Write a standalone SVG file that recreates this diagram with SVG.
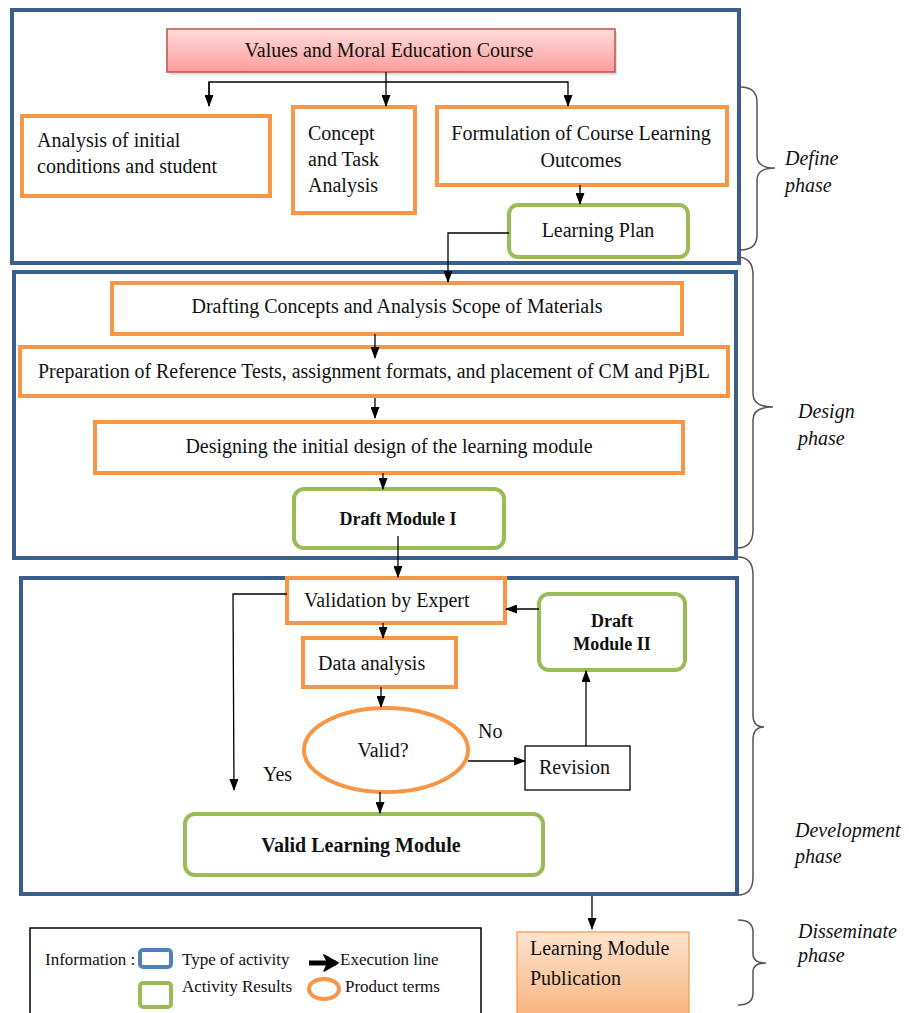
<svg xmlns="http://www.w3.org/2000/svg" width="909" height="1013" viewBox="0 0 909 1013">
<defs>
<style>
text{font-family:"Liberation Serif","Times New Roman",serif;font-size:20px;fill:#111;}
.b{font-weight:bold;}
.it{font-style:italic;}
.mid{text-anchor:middle;}
.lg{font-size:17px;}
.frame{fill:none;stroke:#3a5f8f;stroke-width:4;}
.org{fill:#fff;stroke:#f79646;stroke-width:4;}
.grn{fill:#fff;stroke:#9bbb59;stroke-width:4;}
.con{fill:none;stroke:#000;stroke-width:1.3;}
.brace{fill:none;stroke:#555;stroke-width:1.5;}
</style>
<marker id="arr" markerWidth="12" markerHeight="9" refX="11" refY="4.5" orient="auto" markerUnits="userSpaceOnUse">
<path d="M0,0 L12,4.5 L0,9 z" fill="#000"/>
</marker>
<marker id="arrB" markerWidth="16" markerHeight="18" refX="13" refY="9" orient="auto" markerUnits="userSpaceOnUse">
<path d="M1,1 L15,9 L1,17 L5,9 z" fill="#000" stroke="#000" stroke-width="1.5" stroke-linejoin="round"/>
</marker>
<linearGradient id="pink" x1="0" y1="0" x2="0" y2="1">
<stop offset="0" stop-color="#ffdcdc"/>
<stop offset="1" stop-color="#fc9c9c"/>
</linearGradient>
<linearGradient id="peach" x1="0" y1="0" x2="0" y2="1">
<stop offset="0" stop-color="#fde4cf"/>
<stop offset="1" stop-color="#f9b07a"/>
</linearGradient>
</defs>
<rect width="909" height="1013" fill="#fff"/>

<g id="frames">
<rect id="define-frame" class="frame" x="12" y="10" width="727" height="253"/>
<rect id="design-frame" class="frame" x="14" y="272" width="722" height="286"/>
<rect id="development-frame" class="frame" x="21" y="578" width="716" height="316"/>
</g>

<g id="values-course">
<rect x="169" y="32" width="448" height="43" fill="#000" opacity="0.12"/>
<rect x="167" y="29" width="448" height="43" fill="url(#pink)" stroke="#c0504d" stroke-width="1.5"/>
<text class="mid" x="389" y="57">Values and Moral Education Course</text>
</g>
<g id="analysis-initial">
<rect class="org" x="22" y="116" width="248" height="80"/>
<text x="37" y="147">Analysis of initial</text>
<text x="37" y="173">conditions and student</text>
</g>
<g id="concept-task">
<rect class="org" x="293" y="107" width="122" height="106"/>
<text x="308" y="140">Concept</text>
<text x="308" y="166">and Task</text>
<text x="308" y="192">Analysis</text>
</g>
<g id="formulation">
<rect class="org" x="437" y="107" width="290" height="78"/>
<text class="mid" x="581" y="140">Formulation of Course Learning</text>
<text class="mid" x="581" y="167">Outcomes</text>
</g>
<g id="learning-plan">
<rect class="grn" x="509" y="205" width="179" height="52" rx="9"/>
<text class="mid" x="598" y="237">Learning Plan</text>
</g>

<g id="drafting-concepts">
<rect class="org" x="112" y="283" width="570" height="51"/>
<text class="mid" x="397" y="313">Drafting Concepts and Analysis Scope of Materials</text>
</g>
<g id="preparation">
<rect class="org" x="20" y="347" width="708" height="49"/>
<text class="mid" x="374" y="378" textLength="672" lengthAdjust="spacingAndGlyphs">Preparation of Reference Tests, assignment formats, and placement of CM and PjBL</text>
</g>
<g id="designing">
<rect class="org" x="95" y="422" width="588" height="51"/>
<text class="mid" x="389" y="453">Designing the initial design of the learning module</text>
</g>
<g id="draft-module-1">
<rect class="grn" x="294" y="489" width="210" height="59" rx="10"/>
<text class="mid b" x="398" y="525" style="font-size:18px">Draft Module I</text>
</g>

<g id="validation-expert">
<rect class="org" x="287" y="578" width="218" height="45"/>
<text x="304" y="607">Validation by Expert</text>
</g>
<g id="draft-module-2">
<rect class="grn" x="539" y="594" width="146" height="76" rx="10"/>
<text class="mid b" x="612" y="627" style="font-size:18px">Draft</text>
<text class="mid b" x="612" y="650" style="font-size:18px">Module II</text>
</g>
<g id="data-analysis">
<rect class="org" x="303" y="638" width="153" height="49"/>
<text x="318" y="670">Data analysis</text>
</g>
<g id="valid-decision">
<ellipse cx="386" cy="750" rx="82" ry="42" fill="#fff" stroke="#f79646" stroke-width="4"/>
<text class="mid" x="383" y="757">Valid?</text>
</g>
<g id="revision">
<rect x="525" y="746" width="105" height="44" fill="#fff" stroke="#000" stroke-width="1.3"/>
<text x="539" y="774">Revision</text>
</g>
<g id="valid-learning-module">
<rect class="grn" x="185" y="814" width="358" height="61" rx="10"/>
<text class="mid b" x="361" y="852">Valid Learning Module</text>
</g>

<g id="publication">
<rect x="517" y="932" width="172" height="90" fill="url(#peach)" stroke="#f79646" stroke-width="1.2"/>
<text x="530" y="955">Learning Module</text>
<text x="530" y="985">Publication</text>
</g>

<g id="legend">
<rect x="30" y="928" width="451" height="100" fill="#fff" stroke="#000" stroke-width="1.5"/>
<text class="lg" x="45" y="965">Information :</text>
<rect x="140" y="950" width="31" height="17" rx="3" fill="#fff" stroke="#4f81bd" stroke-width="4"/>
<text class="lg" x="182" y="965">Type of activity</text>
<line x1="309" y1="963" x2="336" y2="963" stroke="#000" stroke-width="5" marker-end="url(#arrB)"/>
<text class="lg" x="340" y="965">Execution line</text>
<rect x="140" y="983" width="31" height="24" rx="3" fill="#fff" stroke="#9bbb59" stroke-width="4"/>
<text class="lg" x="182" y="992">Activity Results</text>
<ellipse cx="324" cy="989" rx="15" ry="10" fill="#fff" stroke="#f79646" stroke-width="4"/>
<text class="lg" x="345" y="992">Product terms</text>
</g>

<g id="connectors">
<line class="con" x1="386" y1="72" x2="386" y2="106" marker-end="url(#arr)"/>
<polyline class="con" points="209,106 209,82 568,82 568,106" marker-end="url(#arr)"/>
<line class="con" x1="209" y1="82" x2="209" y2="106" marker-end="url(#arr)"/>
<line class="con" x1="580" y1="185" x2="580" y2="204" marker-end="url(#arr)"/>
<polyline class="con" points="509,233 448,233 448,282" marker-end="url(#arr)"/>
<line class="con" x1="375" y1="334" x2="375" y2="358" marker-end="url(#arr)"/>
<line class="con" x1="375" y1="398" x2="375" y2="418" marker-end="url(#arr)"/>
<line class="con" x1="383" y1="473" x2="383" y2="489" marker-end="url(#arr)"/>
<line class="con" x1="398" y1="536" x2="398" y2="577" marker-end="url(#arr)"/>
<polyline class="con" points="287,594 233,594 234,790" marker-end="url(#arr)"/>
<line class="con" x1="539" y1="609" x2="506" y2="609" marker-end="url(#arr)"/>
<line class="con" x1="383" y1="623" x2="383" y2="638" marker-end="url(#arr)"/>
<line class="con" x1="381" y1="687" x2="381" y2="707" marker-end="url(#arr)"/>
<line class="con" x1="468" y1="761" x2="525" y2="761" marker-end="url(#arr)"/>
<line class="con" x1="586" y1="746" x2="586" y2="671" marker-end="url(#arr)"/>
<line class="con" x1="380" y1="792" x2="380" y2="813" marker-end="url(#arr)"/>
<line class="con" x1="592" y1="896" x2="592" y2="929" marker-end="url(#arr)"/>
<text x="478" y="738">No</text>
<text x="263" y="781">Yes</text>
</g>

<g id="phases">
<path class="brace" d="M740,87 Q757,87 757,102 L757,156 Q757,168 775,168 Q757,168 757,180 L757,235 Q757,250 740,250"/>
<text class="it" x="785" y="165">Define</text>
<text class="it" x="785" y="192">phase</text>
<path class="brace" d="M737,257 Q753,257 753,275 L753,394 Q753,407 773,407 Q753,407 753,420 L753,530 Q753,548 737,548"/>
<text class="it" x="798" y="418">Design</text>
<text class="it" x="798" y="445">phase</text>
<path class="brace" d="M738,557 Q753,557 753,575 L753,715 Q753,727 764,727 Q753,727 753,740 L753,877 Q753,895 738,895"/>
<text class="it" x="795" y="837">Development</text>
<text class="it" x="795" y="863">phase</text>
<path class="brace" d="M738,920 Q753,920 753,932 L753,954 Q753,963 766,963 Q753,963 753,972 L753,993 Q753,1005 738,1005"/>
<text class="it" x="798" y="938">Disseminate</text>
<text class="it" x="798" y="962">phase</text>
</g>
</svg>
